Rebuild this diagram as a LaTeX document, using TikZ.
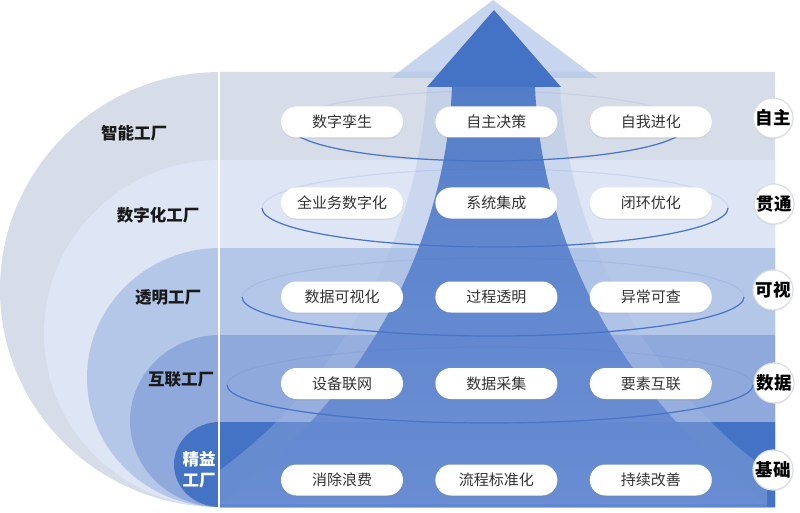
\documentclass[tikz,border=0pt]{standalone}
\usepackage{fontspec}
\setmainfont{Noto Sans CJK SC}
\usetikzlibrary{positioning,shadows}

\definecolor{lvA}{HTML}{D6DCE8}
\definecolor{lvB}{HTML}{DEE5F5}
\definecolor{lvC}{HTML}{B5C7E8}
\definecolor{lvD}{HTML}{8FA9DC}
\definecolor{lvE}{HTML}{4472C4}
\definecolor{shafttop}{HTML}{4472C4}
\definecolor{shaftlow}{HTML}{6B8ED4}
\definecolor{headlight}{HTML}{B4C7E9}
\definecolor{striplight}{HTML}{A6BDE6}
\definecolor{ringblue}{HTML}{4A74C6}
\definecolor{pilltext}{HTML}{333333}
\definecolor{tagrim}{HTML}{D8DDE6}

\begin{document}
\begin{tikzpicture}[
    x=1pt, y=-1pt,
    pill/.style={rectangle, fill=white, rounded corners=15.5pt, minimum width=122pt, minimum height=31pt, inner sep=0pt, text=pilltext, font=\fontsize{15}{18}\selectfont, drop shadow={opacity=0.12, shadow xshift=0pt, shadow yshift=-1.5pt}},
    tag/.style={circle, draw=tagrim, line width=1.2pt, fill=white, minimum size=40pt, inner sep=0pt, font=\bfseries\fontsize{17.5}{20}\selectfont, drop shadow={opacity=0.12, shadow xshift=0pt, shadow yshift=-1.5pt}},
    level/.style={font=\bfseries\fontsize{16.5}{21}\selectfont, text=black!90, align=center},
    orbit/.style={draw=ringblue, line width=1.2pt}
]
    \useasboundingbox (0,0) rectangle (800,513);

    % Levels
    \fill[lvA] (775,72) -- (220,72) arc[start angle=90, end angle=270, x radius=220pt, y radius=217.5pt] -- (775,507) -- cycle;
    \fill[lvB] (775,160) -- (220,160) arc[start angle=90, end angle=270, x radius=176pt, y radius=173.5pt] -- (775,507) -- cycle;
    \fill[lvC] (775,248) -- (220,248) arc[start angle=90, end angle=270, x radius=133pt, y radius=129.5pt] -- (775,507) -- cycle;
    \fill[lvD] (775,335) -- (220,335) arc[start angle=90, end angle=270, x radius=90pt, y radius=86pt] -- (775,507) -- cycle;
    \fill[lvE] (775,422) -- (220,422) arc[start angle=90, end angle=270, x radius=46pt, y radius=42.5pt] -- (775,507) -- cycle;
    \draw[white, line width=2pt] (219,72) -- (219,510);

    % Arrow
    \fill[headlight, fill opacity=0.75] (493,0) -- (597,78) -- (391,78) -- cycle;
    \fill[striplight, fill opacity=0.35] (427,87) .. controls (418,250) and (330,390) .. (220,470) -- (220,507) -- (767,507) -- (767,470) .. controls (657,390) and (569,250) .. (560,87) -- cycle;
    \shade[top color=shafttop, bottom color=shaftlow, fill opacity=0.88] (452,87) -- (535,87) .. controls (542,250) and (627,400) .. (765,502) -- (765,507) -- (222,507) -- (222,502) .. controls (360,400) and (445,250) .. (452,87) -- cycle;
    \fill[shafttop] (494,10) -- (561,87) -- (427,87) -- cycle;
    \fill[shafttop, fill opacity=0.25] (220,504) rectangle (775,508);

    % Orbits
    \draw[orbit, draw opacity=0.1] (488,126) ellipse [x radius=198pt, y radius=35pt];
    \draw[orbit] (290,126) arc[start angle=180, end angle=360, x radius=198pt, y radius=35pt];
    \draw[orbit, draw opacity=0.12] (495,208) ellipse [x radius=233pt, y radius=39pt];
    \draw[orbit] (262,208) arc[start angle=180, end angle=360, x radius=233pt, y radius=39pt];
    \draw[orbit, draw opacity=0.12] (493,297) ellipse [x radius=251pt, y radius=39pt];
    \draw[orbit] (242,297) arc[start angle=180, end angle=360, x radius=251pt, y radius=39pt];
    \draw[orbit, draw opacity=0.12] (490,385) ellipse [x radius=263pt, y radius=38pt];
    \draw[orbit] (227,385) arc[start angle=180, end angle=360, x radius=263pt, y radius=38pt];

    % Level names
    \node [level] (lzn) at (134,133) {智能工厂};
    \node [level] (lsz) at (158,215) {数字化工厂};
    \node [level] (ltm) at (168,297) {透明工厂};
    \node [level] (lhl) at (181,379) {互联工厂};
    \node [level, text=white] (ljy) at (199,469.5) {精益\\工厂};

    % Pills
    \node [pill] (zn1) at (342,122) {数字孪生};
    \node [pill, right=32pt of zn1] (zn2) {自主决策};
    \node [pill, right=32pt of zn2] (zn3) {自我进化};
    \node [pill] (sz1) at (342,203) {全业务数字化};
    \node [pill, right=32pt of sz1] (sz2) {系统集成};
    \node [pill, right=32pt of sz2] (sz3) {闭环优化};
    \node [pill] (tm1) at (342,297) {数据可视化};
    \node [pill, right=32pt of tm1] (tm2) {过程透明};
    \node [pill, right=32pt of tm2] (tm3) {异常可查};
    \node [pill] (hl1) at (342,383.5) {设备联网};
    \node [pill, right=32pt of hl1] (hl2) {数据采集};
    \node [pill, right=32pt of hl2] (hl3) {要素互联};
    \node [pill] (jy1) at (342,480) {消除浪费};
    \node [pill, right=32pt of jy1] (jy2) {流程标准化};
    \node [pill, right=32pt of jy2] (jy3) {持续改善};

    % Tags
    \node [tag] (tzz) at (773,118) {自主};
    \node [tag] (tgt) at (774,204) {贯通};
    \node [tag] (tks) at (773,290) {可视};
    \node [tag] (tsj) at (774,383) {数据};
    \node [tag] (tjc) at (773,470) {基础};

\end{tikzpicture}
\end{document}
